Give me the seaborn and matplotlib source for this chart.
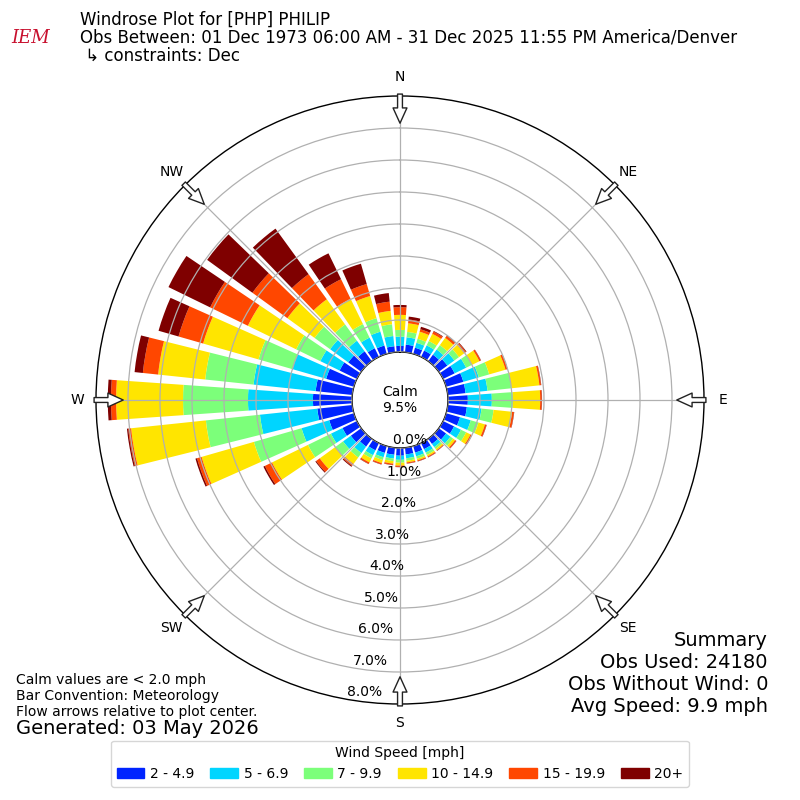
import numpy as np
import pandas as pd
import seaborn as sns
import matplotlib.pyplot as plt
import matplotlib.patches as mpatches

# direction of bar centres (degrees, meteorological) and speed bins
directions = np.arange(0, 360, 10)
speed_bins = ['2 - 4.9', '5 - 6.9', '7 - 9.9', '10 - 14.9', '15 - 19.9', '20+']
bin_colors = ['#0024ff', '#00d5ff', '#7cff7a', '#ffe500', '#ff4700', '#7f0000']

# percent of obs per direction for each speed bin
spd_2_5 = [0.19, 0.24, 0.20, 0.22, 0.25, 0.33, 0.40, 0.56, 0.56, 0.62, 0.60, 0.45,
           0.38, 0.28, 0.20, 0.21, 0.21, 0.21, 0.24, 0.22, 0.22, 0.25, 0.30, 0.40,
           0.50, 0.80, 1.10, 1.22, 1.15, 0.90, 0.60, 0.50, 0.38, 0.30, 0.27, 0.19]
spd_5_7 = [0.29, 0.23, 0.16, 0.18, 0.20, 0.27, 0.40, 0.50, 0.69, 0.75, 0.46, 0.35,
           0.24, 0.17, 0.12, 0.12, 0.12, 0.12, 0.13, 0.12, 0.14, 0.17, 0.25, 0.30,
           0.40, 0.90, 1.80, 2.03, 1.95, 1.10, 0.67, 0.70, 0.41, 0.37, 0.45, 0.32]
spd_7_10 = [0.21, 0.17, 0.13, 0.15, 0.17, 0.18, 0.20, 0.34, 0.75, 0.66, 0.38, 0.25,
            0.18, 0.10, 0.07, 0.08, 0.08, 0.08, 0.09, 0.08, 0.09, 0.11, 0.17, 0.30,
            0.80, 1.55, 1.70, 2.03, 1.52, 1.10, 0.84, 0.60, 0.63, 0.47, 0.44, 0.37]
spd_10_15 = [0.47, 0.27, 0.23, 0.25, 0.28, 0.20, 0.26, 0.53, 0.88, 0.85, 0.58, 0.21,
             0.15, 0.08, 0.05, 0.05, 0.05, 0.05, 0.09, 0.08, 0.10, 0.14, 0.25, 0.60,
             1.25, 1.70, 2.35, 2.09, 1.48, 1.80, 1.68, 1.05, 0.97, 0.88, 0.72, 0.42]
spd_15_20 = [0.24, 0.12, 0.08, 0.08, 0.08, 0.07, 0.05, 0.06, 0.05, 0.05, 0.06, 0.05,
             0.05, 0.04, 0.02, 0.03, 0.03, 0.03, 0.04, 0.04, 0.04, 0.05, 0.08, 0.14,
             0.25, 0.15, 0.09, 0.16, 0.48, 0.80, 1.31, 1.35, 0.97, 0.68, 0.39, 0.29]
spd_20p = [0.07, 0.09, 0.08, 0.02, 0.02, 0.02, 0.01, 0.01, 0.01, 0.01, 0.01, 0.01,
           0.01, 0.01, 0.01, 0.01, 0.01, 0.01, 0.01, 0.01, 0.01, 0.01, 0.03, 0.03,
           0.05, 0.05, 0.04, 0.10, 0.26, 0.65, 1.45, 1.75, 1.76, 0.90, 0.66, 0.27]

calm_pct = 9.5
rticks = [0, 1, 2, 3, 4, 5, 6, 7, 8]
compass = ['N', 'NE', 'E', 'SE', 'S', 'SW', 'W', 'NW']
compass_deg = [0, 45, 90, 135, 180, 225, 270, 315]

df = pd.DataFrame({'dir': directions})
for name, vals in zip(speed_bins, [spd_2_5, spd_5_7, spd_7_10, spd_10_15, spd_15_20, spd_20p]):
    df[name] = vals
cum = df[speed_bins].cumsum(axis=1)

sns.set_style('white')
plt.rcParams['font.family'] = ['DejaVu Sans']
plt.rcParams['text.color'] = 'black'
plt.rcParams['xtick.color'] = 'black'
plt.rcParams['ytick.color'] = 'black'

fig = plt.figure(figsize=(8, 8), dpi=100)
ax = fig.add_axes([0.12, 0.12, 0.76, 0.76], projection='polar')
ax.set_theta_zero_location('N')
ax.set_theta_direction(-1)

theta = np.deg2rad(df['dir'].values)
width = np.deg2rad(8)
pal = sns.color_palette(bin_colors)
prev = np.zeros(len(df))
for name, col in zip(speed_bins, pal):
    ax.bar(theta, df[name].values, width=width, bottom=prev, color=col,
           linewidth=0, align='center', zorder=1)
    prev = cum[name].values

ax.set_rorigin(-1.5)
ax.set_rlim(0, 8)
# outer ring (8%) is the spine itself
ax.set_yticks(rticks[:-1])
ax.set_yticklabels([])
ax.set_axisbelow(False)
ax.grid(True, color='#b0b0b0', linewidth=0.9)
for sp in ax.spines.values():
    sp.set_color('black')
    sp.set_linewidth(1.0)

for r in rticks:
    ax.text(np.deg2rad(190), r, f'{r:.1f}%', ha='left', va='bottom',
            fontsize=10, clip_on=False, zorder=5)

ax.set_xticks(np.deg2rad(compass_deg))
ax.set_xticklabels(compass, fontsize=10)
ax.tick_params(axis='x', pad=3)

# inward flow arrows on the rim
for d in compass_deg:
    ax.annotate('', xy=(np.deg2rad(d), 7.15), xytext=(np.deg2rad(d), 8.06),
                arrowprops=dict(arrowstyle='simple,head_length=1.1,head_width=1.0,tail_width=0.35',
                                fc='white', ec='#222222', lw=1, shrinkA=0, shrinkB=0),
                annotation_clip=False, zorder=6)

ax.text(0.5, 0.5, f'Calm\n{calm_pct}%', transform=ax.transAxes, ha='center',
        va='center', fontsize=10)

# header
fig.text(0.038, 1 - 38 / 800, 'IEM', color='#c8102e', fontsize=13, family='serif',
         style='italic', ha='center', va='center')
fig.text(0.1, 1 - 20 / 800, 'Windrose Plot for [PHP] PHILIP', fontsize=12, va='center')
fig.text(0.1, 1 - 38 / 800,
         'Obs Between: 01 Dec 1973 06:00 AM - 31 Dec 2025 11:55 PM America/Denver',
         fontsize=12, va='center')
fig.text(0.1, 1 - 56 / 800, ' \u21b3 constraints: Dec', fontsize=12, va='center')

# footer notes
fig.text(0.02, 1 - 680 / 800, 'Calm values are < 2.0 mph', fontsize=10, va='center')
fig.text(0.02, 1 - 696 / 800, 'Bar Convention: Meteorology', fontsize=10, va='center')
fig.text(0.02, 1 - 712 / 800, 'Flow arrows relative to plot center.', fontsize=10, va='center')
fig.text(0.02, 1 - 729 / 800, 'Generated: 03 May 2026', fontsize=14, va='center')

summary = ['Summary', 'Obs Used: 24180', 'Obs Without Wind: 0', 'Avg Speed: 9.9 mph']
for i, s in enumerate(summary):
    fig.text(0.96, 1 - (640 + 22 * i) / 800, s, fontsize=14, ha='right', va='center')

handles = [mpatches.Patch(color=c, label=l) for c, l in zip(pal, speed_bins)]
fig.legend(handles=handles, loc='lower center', bbox_to_anchor=(0.5, 0.008), ncol=6,
           title='Wind Speed [mph]', fontsize=10, title_fontsize=10, frameon=True,
           handlelength=2.0, handletextpad=0.4, columnspacing=1.15)

fig.savefig('out.png', dpi=100)
